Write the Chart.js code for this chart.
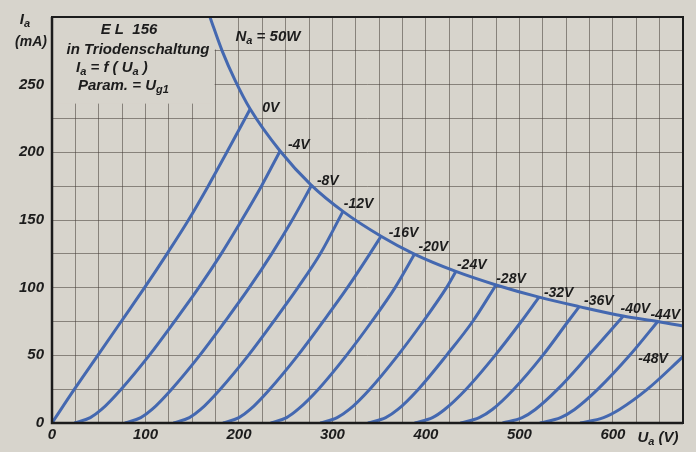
<!DOCTYPE html>
<html lang="de">
<head>
<meta charset="UTF-8">
<title>EL 156 in Triodenschaltung</title>
<script src="https://cdn.jsdelivr.net/npm/chart.js"></script>
<style>
  body { margin: 0; background: #d7d4cc; }
  canvas { display: block; }
</style>
</head>
<body>
<canvas id="kennlinien" width="696" height="452"></canvas>
<script>
// Kennlinien Ia = f(Ua), Parameter Ug1
const ug1Labels = ['0V', '-4V', '-8V', '-12V', '-16V', '-20V', '-24V', '-28V', '-32V', '-36V', '-40V', '-44V', '-48V'];

const ua_0 = [0, 24, 49, 74, 99, 123, 146, 167, 187, 212];
const ia_0 = [0, 25, 50, 75, 100, 125, 150, 175, 200, 232];
const ua_4 = [24, 41, 53, 74, 104, 131, 157, 181, 203, 224, 244];
const ia_4 = [0, 4, 10, 25, 50, 75, 100, 125, 150, 175, 201];
const ua_8 = [78, 95, 107, 128, 158, 185, 211, 235, 257, 278];
const ia_8 = [0, 4, 10, 25, 50, 75, 100, 125, 150, 176];
const ua_12 = [130, 147, 159, 180, 210, 237, 263, 287, 311];
const ia_12 = [0, 4, 10, 25, 50, 75, 100, 125, 156];
const ua_16 = [183, 200, 212, 233, 263, 290, 316, 340, 352];
const ia_16 = [0, 4, 10, 25, 50, 75, 100, 125, 138];
const ua_20 = [234, 251, 263, 285, 315, 342, 367, 388];
const ia_20 = [0, 4, 10, 25, 50, 75, 100, 125];
const ua_24 = [287, 305, 318, 340, 370, 397, 422, 432];
const ia_24 = [0, 4, 10, 25, 50, 75, 100, 112];
const ua_28 = [338, 357, 370, 392, 422, 450, 475];
const ia_28 = [0, 4, 10, 25, 50, 75, 102];
const ua_32 = [388, 407, 420, 443, 474, 502, 521];
const ia_32 = [0, 4, 10, 25, 50, 75, 93];
const ua_36 = [437, 457, 471, 494, 525, 552, 564];
const ia_36 = [0, 4, 10, 25, 50, 75, 86];
const ua_40 = [482, 503, 517, 541, 574, 606, 611];
const ia_40 = [0, 4, 10, 25, 50, 75, 79];
const ua_44 = [522, 544, 559, 584, 618, 648];
const ia_44 = [0, 4, 10, 25, 50, 75];
const ua_48 = [565, 590, 607, 637, 675];
const ia_48 = [0, 4, 10, 25, 49];

// Verlustleistungshyperbel Na = 50 W
const ua_na = [165, 171, 182, 196, 212, 244, 277, 312, 352, 387, 432, 475, 521, 564, 611, 648, 680];
const ia_na = [308, 296, 275, 253, 232, 201, 176, 156, 138, 125, 112, 102, 93, 86, 79, 75, 71];

const uaTicks = [0, 100, 200, 300, 400, 500, 600];
const iaTicks = [0, 50, 100, 150, 200, 250];

const curveUa = [ua_0, ua_4, ua_8, ua_12, ua_16, ua_20, ua_24, ua_28, ua_32, ua_36, ua_40, ua_44, ua_48];
const curveIa = [ia_0, ia_4, ia_8, ia_12, ia_16, ia_20, ia_24, ia_28, ia_32, ia_36, ia_40, ia_44, ia_48];

// where the Ug1 labels sit (Ua, Ia)
const labelPos = [
  [234, 233], [264, 205], [295, 179], [328, 162], [376, 140], [408, 130], [449, 117],
  [491, 106], [542, 96], [585, 90], [624, 84], [656, 80], [643, 47]
];

const BLUE = '#4468b0';
const INK = '#1c1c1c';
const PAPER = '#d7d4cc';
const FONT = "'Liberation Sans', Arial, sans-serif";

function pts(xs, ys) {
  return xs.map((x, i) => ({ x: x, y: ys[i] }));
}

const datasets = curveUa.map((xs, i) => ({
  label: ug1Labels[i],
  data: pts(xs, curveIa[i]),
  borderColor: BLUE,
  borderWidth: 3,
  pointRadius: 0,
  showLine: true,
  cubicInterpolationMode: 'monotone'
}));
datasets.push({
  label: 'Na = 50W',
  data: pts(ua_na, ia_na),
  borderColor: BLUE,
  borderWidth: 3,
  pointRadius: 0,
  showLine: true,
  cubicInterpolationMode: 'monotone'
});

// text with subscripts: parts = [[text, sub], ...]
function rich(ctx, parts, x, y, size, align) {
  const big = 'italic bold ' + size + 'px ' + FONT;
  const small = 'italic bold ' + Math.round(size * 0.72) + 'px ' + FONT;
  let w = 0;
  parts.forEach(p => { ctx.font = p[1] ? small : big; w += ctx.measureText(p[0]).width; });
  let cx = align === 'center' ? x - w / 2 : (align === 'right' ? x - w : x);
  ctx.textAlign = 'left';
  ctx.textBaseline = 'middle';
  parts.forEach(p => {
    ctx.font = p[1] ? small : big;
    ctx.fillText(p[0], cx, p[1] ? y + 4 : y);
    cx += ctx.measureText(p[0]).width;
  });
}

const blankBox = {
  id: 'blankBox',
  beforeDatasetsDraw(chart) {
    const { ctx, scales: { x, y } } = chart;
    ctx.save();
    ctx.fillStyle = PAPER;
    const l = x.getPixelForValue(0) + 1, r = x.getPixelForValue(174);
    const t = y.getPixelForValue(300) + 1, b = y.getPixelForValue(236);
    ctx.fillRect(l, t, r - l, b - t);
    // 175 V line starts a bit lower
    ctx.fillRect(r, t, x.getPixelForValue(176) - r, y.getPixelForValue(276) - t);
    ctx.restore();
  }
};

const beschriftung = {
  id: 'beschriftung',
  afterDraw(chart) {
    const { ctx, chartArea: a, scales: { x, y } } = chart;
    ctx.save();
    // frame
    ctx.strokeStyle = INK;
    ctx.lineWidth = 2;
    ctx.strokeRect(a.left, a.top, a.right - a.left, a.bottom - a.top);
    ctx.lineWidth = 2.5;
    ctx.beginPath();
    ctx.moveTo(a.left, a.top); ctx.lineTo(a.left, a.bottom); ctx.lineTo(a.right, a.bottom);
    ctx.stroke();

    ctx.fillStyle = INK;
    // axis titles
    rich(ctx, [['I', false], ['a', true]], 25, 20, 15, 'center');
    rich(ctx, [['(mA)', false]], 31, 42, 14, 'center');
    rich(ctx, [['U', false], ['a', true], [' (V)', false]], 658, 438, 15, 'center');

    // description block
    rich(ctx, [['E L  156', false]], 129, 30, 15, 'center');
    rich(ctx, [['in Triodenschaltung', false]], 138, 50, 15, 'center');
    rich(ctx, [['I', false], ['a', true], [' = f ( U', false], ['a', true], [' )', false]], 76, 68, 15, 'left');
    rich(ctx, [['Param. = U', false], ['g1', true]], 78, 86, 15, 'left');

    // hyperbola label
    rich(ctx, [['N', false], ['a', true], [' = 50W', false]], x.getPixelForValue(231), y.getPixelForValue(285), 15, 'center');

    // Ug1 labels
    labelPos.forEach((p, i) => {
      rich(ctx, [[ug1Labels[i], false]], x.getPixelForValue(p[0]), y.getPixelForValue(p[1]), 14, 'center');
    });
    ctx.restore();
  }
};

const tickFont = { family: FONT, size: 15, style: 'italic', weight: 'bold' };

new Chart(document.getElementById('kennlinien'), {
  type: 'scatter',
  data: { datasets: datasets },
  options: {
    responsive: false,
    animation: false,
    layout: { padding: { top: 11, right: 13, left: 0, bottom: 0 } },
    plugins: { legend: { display: false }, tooltip: { enabled: false } },
    scales: {
      x: {
        type: 'linear', min: 0, max: 675,
        ticks: {
          stepSize: 25, autoSkip: false, maxRotation: 0, padding: 3,
          color: INK, font: tickFont,
          callback: v => uaTicks.includes(v) ? String(v) : ''
        },
        grid: { color: 'rgba(70,62,56,0.55)', lineWidth: 1, drawTicks: false },
        border: { display: false },
        afterFit: s => { s.height = 29; }
      },
      y: {
        type: 'linear', min: 0, max: 300,
        ticks: {
          stepSize: 25, autoSkip: false, padding: 8,
          color: INK, font: tickFont,
          callback: v => iaTicks.includes(v) ? String(v) : ''
        },
        grid: { color: 'rgba(70,62,56,0.55)', lineWidth: 1, drawTicks: false },
        border: { display: false },
        afterFit: s => { s.width = 52; }
      }
    }
  },
  plugins: [blankBox, beschriftung]
});
</script>
</body>
</html>
